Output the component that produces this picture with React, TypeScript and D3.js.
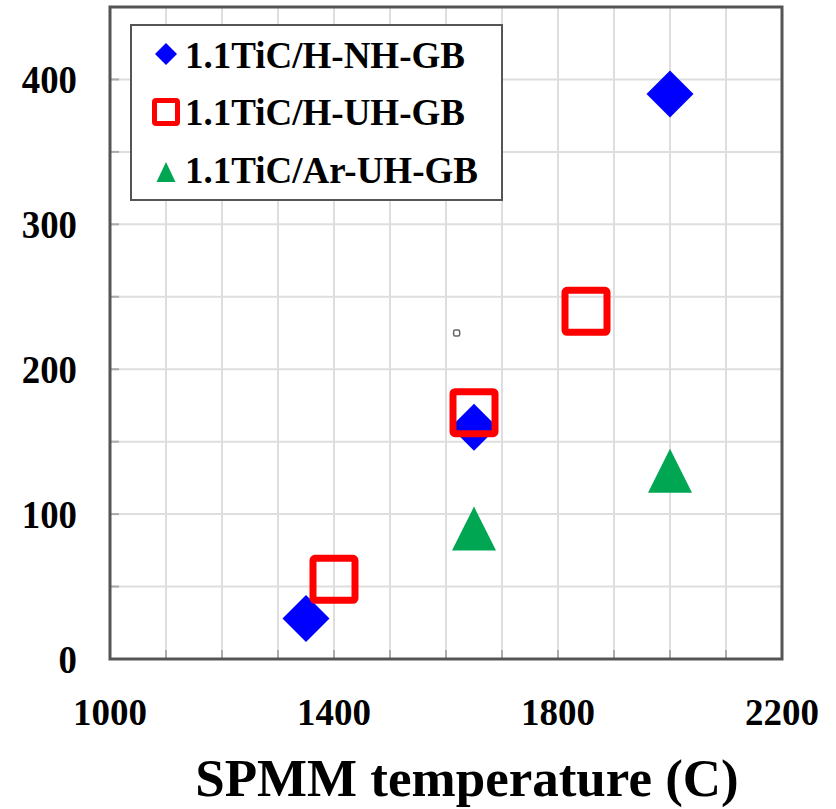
import React, { useEffect, useRef } from 'react'
import { select, scaleLinear, range } from 'd3'

// series: SPMM temperature (C) vs value
const nhTemp = [1350, 1650, 2000]
const nhValue = [28, 160, 390]

const uhTemp = [1400, 1650, 1850]
const uhValue = [55, 170, 240]

const arTemp = [1650, 2000]
const arValue = [90, 130]

// a tiny stray marker in the original
const strayTemp = [1619]
const strayValue = [225]

const xTickLabels = [1000, 1400, 1800, 2200]
const yTickLabels = [0, 100, 200, 300, 400]

const legendLabels = ['1.1TiC/H-NH-GB', '1.1TiC/H-UH-GB', '1.1TiC/Ar-UH-GB']

const BLUE = '#0000ff'
const RED = '#ff0000'
const GREEN = '#00a651'
const FONT = '"Liberation Serif", "Times New Roman", serif'

function App() {
  const ref = useRef<SVGSVGElement>(null)

  useEffect(() => {
    const width = 836
    const height = 809
    const margin = { top: 7, right: 54, bottom: 150, left: 110 }

    const svg = select(ref.current)
    svg.selectAll('*').remove()

    const x = scaleLinear().domain([1000, 2200]).range([margin.left, width - margin.right])
    const y = scaleLinear().domain([0, 450]).range([height - margin.bottom, margin.top])

    const g = svg.append('g')

    // grid
    g.selectAll('.vgrid')
      .data(range(1100, 2200, 100))
      .enter()
      .append('line')
      .attr('x1', d => x(d))
      .attr('x2', d => x(d))
      .attr('y1', y(0))
      .attr('y2', y(450))
      .attr('stroke', '#dedede')
      .attr('stroke-width', 2)

    g.selectAll('.hgrid')
      .data(range(50, 450, 50))
      .enter()
      .append('line')
      .attr('x1', x(1000))
      .attr('x2', x(2200))
      .attr('y1', d => y(d))
      .attr('y2', d => y(d))
      .attr('stroke', '#dedede')
      .attr('stroke-width', 2)

    // little inward ticks
    g.selectAll('.ytick')
      .data(range(50, 450, 50))
      .enter()
      .append('line')
      .attr('x1', x(1000))
      .attr('x2', x(1000) + 9)
      .attr('y1', d => y(d))
      .attr('y2', d => y(d))
      .attr('stroke', '#aaa')
      .attr('stroke-width', 2)

    g.selectAll('.xtick')
      .data(range(1100, 2200, 100))
      .enter()
      .append('line')
      .attr('x1', d => x(d))
      .attr('x2', d => x(d))
      .attr('y1', y(0))
      .attr('y2', y(0) - 9)
      .attr('stroke', '#aaa')
      .attr('stroke-width', 2)

    // frame
    g.append('rect')
      .attr('x', x(1000))
      .attr('y', y(450))
      .attr('width', x(2200) - x(1000))
      .attr('height', y(0) - y(450))
      .attr('fill', 'none')
      .attr('stroke', '#555')
      .attr('stroke-width', 3)

    // tick labels (the y ones are a bit narrow and tall in the original)
    g.selectAll('.ylab')
      .data(yTickLabels)
      .enter()
      .append('text')
      .attr('transform', d => `translate(${x(1000) - 33},${y(d) + 14}) scale(0.92,1)`)
      .attr('text-anchor', 'end')
      .attr('font-family', FONT)
      .attr('font-weight', 'bold')
      .attr('font-size', 40)
      .text(d => d)

    g.selectAll('.xlab')
      .data(xTickLabels)
      .enter()
      .append('text')
      .attr('x', d => x(d))
      .attr('y', y(0) + 66)
      .attr('text-anchor', 'middle')
      .attr('font-family', FONT)
      .attr('font-weight', 'bold')
      .attr('font-size', 37)
      .text(d => d)

    g.append('text')
      .attr('x', 467)
      .attr('y', 796)
      .attr('text-anchor', 'middle')
      .attr('font-family', FONT)
      .attr('font-weight', 'bold')
      .attr('font-size', 53)
      .text('SPMM temperature (C)')

    const diamond = (cx: number, cy: number, r: number) =>
      `M${cx},${cy - r}L${cx + r},${cy}L${cx},${cy + r}L${cx - r},${cy}Z`
    const triangle = (cx: number, cy: number, w: number, h: number) =>
      `M${cx},${cy - h / 2}L${cx + w / 2},${cy + h / 2}L${cx - w / 2},${cy + h / 2}Z`

    // stray marker
    g.selectAll('.stray')
      .data(strayTemp)
      .enter()
      .append('rect')
      .attr('x', (d, i) => x(d) - 3)
      .attr('y', (d, i) => y(strayValue[i]) - 3)
      .attr('width', 6)
      .attr('height', 6)
      .attr('rx', 1.5)
      .attr('fill', 'none')
      .attr('stroke', '#666')
      .attr('stroke-width', 1.5)

    // diamonds
    g.selectAll('.nh')
      .data(nhTemp)
      .enter()
      .append('path')
      .attr('d', (d, i) => diamond(x(d), y(nhValue[i]), 23.5))
      .attr('fill', BLUE)

    // squares
    g.selectAll('.uh')
      .data(uhTemp)
      .enter()
      .append('rect')
      .attr('x', (d, i) => x(d) - 21)
      .attr('y', (d, i) => y(uhValue[i]) - 21)
      .attr('width', 42)
      .attr('height', 42)
      .attr('rx', 2)
      .attr('fill', 'none')
      .attr('stroke', RED)
      .attr('stroke-width', 7)

    // triangles
    g.selectAll('.ar')
      .data(arTemp)
      .enter()
      .append('path')
      .attr('d', (d, i) => triangle(x(d), y(arValue[i]), 44, 44))
      .attr('fill', GREEN)

    // legend
    const lg = g.append('g')
    lg.append('rect')
      .attr('x', 131)
      .attr('y', 25)
      .attr('width', 371)
      .attr('height', 175)
      .attr('fill', 'white')
      .attr('stroke', '#555')
      .attr('stroke-width', 2)

    const rowY = [68, 125, 183]
    lg.append('path').attr('d', diamond(166, rowY[0] - 14, 11)).attr('fill', BLUE)
    lg.append('rect')
      .attr('x', 154.5)
      .attr('y', rowY[1] - 13 - 11.5)
      .attr('width', 23)
      .attr('height', 23)
      .attr('rx', 1.5)
      .attr('fill', 'none')
      .attr('stroke', RED)
      .attr('stroke-width', 5)
    lg.append('path').attr('d', triangle(166, rowY[2] - 11, 19, 20)).attr('fill', GREEN)

    lg.selectAll('.ltext')
      .data(legendLabels)
      .enter()
      .append('text')
      .attr('x', 185)
      .attr('y', (d, i) => rowY[i])
      .attr('font-family', FONT)
      .attr('font-weight', 'bold')
      .attr('font-size', 37)
      .text(d => d)
  }, [])

  return (
    <svg
      ref={ref}
      width={836}
      height={809}
      style={{ position: 'absolute', left: 0, top: 0, background: 'white' }}
    />
  )
}

export default App
